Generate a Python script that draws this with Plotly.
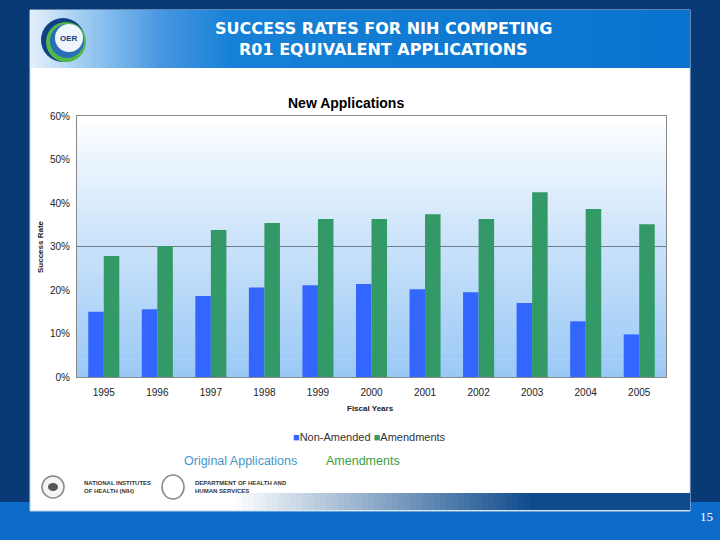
import plotly.graph_objects as go

years = ["1995", "1996", "1997", "1998", "1999", "2000", "2001", "2002", "2003", "2004", "2005"]
non_amended = [15.0, 15.6, 18.6, 20.6, 21.1, 21.4, 20.2, 19.5, 17.0, 12.8, 9.8]
amendments = [27.8, 30.1, 33.8, 35.4, 36.3, 36.3, 37.4, 36.3, 42.5, 38.6, 35.1]
y_ticks = [0, 10, 20, 30, 40, 50, 60]
y_tick_labels = [f"{v}%" for v in y_ticks]

W, H = 720, 540
FONT = "Liberation Sans, Arial, sans-serif"
HEAD_FONT = "DejaVu Sans, Verdana, sans-serif"
BLUE = "#3366ff"
GREEN = "#339966"


def px(x):
    return x / W


def py(y):
    return 1 - y / H


def lerp(c1, c2, t):
    return "rgb(%d,%d,%d)" % tuple(round(a + (b - a) * t) for a, b in zip(c1, c2))


shapes = []
# bright blue bottom strip of the slide
shapes.append(dict(type="rect", xref="paper", yref="paper", x0=0, x1=1, y0=py(540), y1=py(502),
                   fillcolor="#0d6bc9", line_width=0, layer="below"))
# white card
shapes.append(dict(type="rect", xref="paper", yref="paper", x0=px(30), x1=px(690), y0=py(511), y1=py(10),
                   fillcolor="white", line=dict(color="#b9d3ee", width=1), layer="below"))
# header gradient
stops = [(30, (226, 239, 251)), (90, (150, 198, 240)), (160, (70, 150, 225)), (230, (22, 128, 214)),
         (690, (8, 114, 206))]
x = 30
while x < 690:
    for i in range(len(stops) - 1):
        if stops[i][0] <= x < stops[i + 1][0]:
            t = (x - stops[i][0]) / (stops[i + 1][0] - stops[i][0])
            col = lerp(stops[i][1], stops[i + 1][1], t)
    step = 4 if x < 240 else 50
    shapes.append(dict(type="rect", xref="paper", yref="paper", x0=px(x), x1=px(min(x + step + 0.5, 690)),
                       y0=py(68), y1=py(10), fillcolor=col, line_width=0, layer="below"))
    x += step
# bottom band gradient inside card
x = 230
while x < 690:
    t = min((x - 230) / 300, 1)
    col = lerp((255, 255, 255), (14, 74, 140), t)
    shapes.append(dict(type="rect", xref="paper", yref="paper", x0=px(x), x1=px(min(x + 6.5, 690)),
                       y0=py(510), y1=py(493), fillcolor=col, line_width=0, layer="below"))
    x += 6
# plot area gradient
top, bot = 116, 377
n = 44
for i in range(n):
    y0 = top + (bot - top) * i / n
    y1 = top + (bot - top) * (i + 1) / n + 0.5
    t = i / (n - 1)
    col = lerp((255, 255, 255), (155, 201, 246), t ** 0.9)
    shapes.append(dict(type="rect", xref="paper", yref="paper", x0=px(77), x1=px(666),
                       y0=py(min(y1, bot)), y1=py(y0), fillcolor=col, line_width=0, layer="below"))
# OER logo
shapes.append(dict(type="circle", xref="paper", yref="paper", x0=px(41), x1=px(85), y0=py(62), y1=py(18),
                   fillcolor="#123f86", line_width=0, layer="below"))
shapes.append(dict(type="circle", xref="paper", yref="paper", x0=px(46), x1=px(86), y0=py(62), y1=py(22),
                   fillcolor="#54b848", line_width=0, layer="below"))
shapes.append(dict(type="circle", xref="paper", yref="paper", x0=px(50), x1=px(84), y0=py(58), y1=py(24),
                   fillcolor="#2a6fb8", line_width=0, layer="below"))
shapes.append(dict(type="circle", xref="paper", yref="paper", x0=px(55), x1=px(83), y0=py(52), y1=py(24),
                   fillcolor="#eef5fc", line_width=0, layer="below"))
# NIH / HHS seals
shapes.append(dict(type="circle", xref="paper", yref="paper", x0=px(42), x1=px(64), y0=py(498), y1=py(476),
                   fillcolor="#f4f4f4", line=dict(color="#888", width=1.5), layer="below"))
shapes.append(dict(type="circle", xref="paper", yref="paper", x0=px(48), x1=px(58), y0=py(491), y1=py(483),
                   fillcolor="#555", line_width=0, layer="below"))
shapes.append(dict(type="circle", xref="paper", yref="paper", x0=px(162), x1=px(184), y0=py(499), y1=py(475),
                   fillcolor="white", line=dict(color="#888", width=1.5), layer="below"))

annotations = [
    dict(text="<b>SUCCESS RATES FOR NIH COMPETING</b>", x=px(383), y=py(29), xref="paper", yref="paper",
         showarrow=False, font=dict(family=HEAD_FONT, size=16, color="white"), xanchor="center",
         yanchor="middle"),
    dict(text="<b>R01 EQUIVALENT APPLICATIONS</b>", x=px(383), y=py(50), xref="paper", yref="paper",
         showarrow=False, font=dict(family=HEAD_FONT, size=16, color="white"), xanchor="center",
         yanchor="middle"),
    dict(text="<b>OER</b>", x=px(69), y=py(38), xref="paper", yref="paper", showarrow=False,
         font=dict(family=FONT, size=8, color="#123f86"), xanchor="center", yanchor="middle"),
    dict(text="<b>New Applications</b>", x=px(346), y=py(103), xref="paper", yref="paper", showarrow=False,
         font=dict(family=FONT, size=14, color="black"), xanchor="center", yanchor="middle"),
    dict(text="<b>Success Rate</b>", x=px(40), y=py(247), xref="paper", yref="paper", showarrow=False,
         textangle=-90, font=dict(family=FONT, size=8, color="#222"), xanchor="center", yanchor="middle"),
    dict(text="<b>Fiscal Years</b>", x=px(371), y=py(408), xref="paper", yref="paper", showarrow=False,
         font=dict(family=FONT, size=8, color="#222"), xanchor="center", yanchor="middle"),
    dict(text=f"<span style='color:{BLUE}'>■</span>Non-Amended <span style='color:{GREEN}'>■</span>Amendments",
         x=px(370), y=py(437), xref="paper", yref="paper", showarrow=False,
         font=dict(family=FONT, size=11, color="#333"), xanchor="center", yanchor="middle"),
    dict(text="Original Applications", x=px(240), y=py(461), xref="paper", yref="paper", showarrow=False,
         font=dict(family=FONT, size=12.5, color="#4796c8"), xanchor="center", yanchor="middle"),
    dict(text="Amendments", x=px(363), y=py(461), xref="paper", yref="paper", showarrow=False,
         font=dict(family=FONT, size=12.5, color="#3a9e3c"), xanchor="center", yanchor="middle"),
    dict(text="<b>NATIONAL INSTITUTES<br>OF HEALTH (NIH)</b>", x=px(82), y=py(487), xref="paper", yref="paper",
         showarrow=False, align="left", font=dict(family=FONT, size=6, color="#333"),
         xanchor="left", yanchor="middle"),
    dict(text="<b>DEPARTMENT OF HEALTH AND<br>HUMAN SERVICES</b>", x=px(193), y=py(487), xref="paper",
         yref="paper", showarrow=False, align="left", font=dict(family=FONT, size=6, color="#333"),
         xanchor="left", yanchor="middle"),
    dict(text="15", x=px(706), y=py(516), xref="paper", yref="paper", showarrow=False,
         font=dict(family="Liberation Serif, Times New Roman, serif", size=13, color="white"),
         xanchor="center", yanchor="middle"),
]

fig = go.Figure()
fig.add_trace(go.Bar(x=years, y=non_amended, name="Non-Amended", marker=dict(color=BLUE, line_width=0)))
fig.add_trace(go.Bar(x=years, y=amendments, name="Amendments", marker=dict(color=GREEN, line_width=0)))
fig.add_trace(go.Scatter(x=[years[0]], y=[None], yaxis="y2", showlegend=False, hoverinfo="skip", mode="lines"))

fig.update_layout(
    width=W, height=H,
    margin=dict(l=0, r=0, t=0, b=0),
    paper_bgcolor="#0a3a76",
    plot_bgcolor="rgba(0,0,0,0)",
    barmode="group", bargap=0.42, bargroupgap=0,
    font=dict(family=FONT, size=10, color="#222"),
    xaxis=dict(domain=[px(77), px(666)], showgrid=False, showline=True, linecolor="#888", linewidth=1,
               mirror=True, ticks="", tickfont=dict(size=10, color="#222"), automargin=False,
               ticklabelstandoff=6),
    yaxis=dict(domain=[py(377), py(116)], range=[0, 60], tickvals=y_ticks, ticktext=y_tick_labels,
               showgrid=False, showline=True, linecolor="#888", linewidth=1, mirror=True, ticks="",
               zeroline=False, tickfont=dict(size=10, color="#222"), automargin=False, ticklabelstandoff=4),
    yaxis2=dict(overlaying="y", range=[0, 60], tickvals=[30], showticklabels=False, showgrid=True,
                gridcolor="#707a88", gridwidth=1, zeroline=False, showline=False),
    shapes=shapes,
    annotations=annotations,
    showlegend=False,
)

fig.write_html("out.html", config={"displayModeBar": False},
               post_script="document.body.style.margin='0';document.body.style.padding='0';"
                           "document.body.style.overflow='hidden';")
